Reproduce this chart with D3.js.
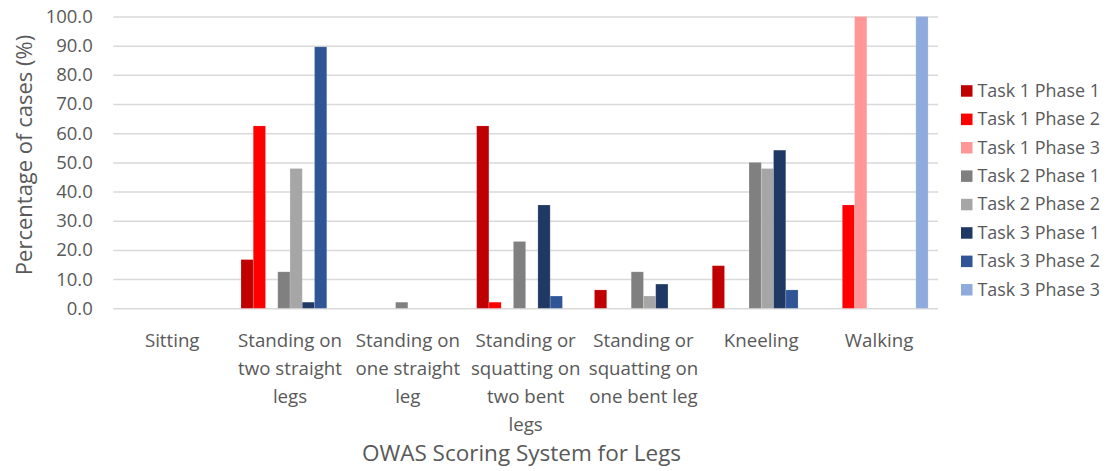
<!DOCTYPE html>
<html>
<head>
<meta charset="utf-8">
<script src="https://cdn.jsdelivr.net/npm/d3@7"></script>
<style>
  html, body { margin: 0; padding: 0; background: #fff; }
  svg { display: block; font-family: "Open Sans", "Noto Sans", sans-serif; }
</style>
</head>
<body>
<svg id="chart" width="1112" height="471"></svg>
<script>
// Posture categories (x axis), each label split into its wrapped lines
const categories = [
  "Sitting",
  "Standing on two straight legs",
  "Standing on one straight leg",
  "Standing or squatting on two bent legs",
  "Standing or squatting on one bent leg",
  "Kneeling",
  "Walking"
];
const categoryLines = [
  ["Sitting"],
  ["Standing on", "two straight", "legs"],
  ["Standing on", "one straight", "leg"],
  ["Standing or", "squatting on", "two bent", "legs"],
  ["Standing or", "squatting on", "one bent leg"],
  ["Kneeling"],
  ["Walking"]
];

const seriesNames = [
  "Task 1 Phase 1", "Task 1 Phase 2", "Task 1 Phase 3",
  "Task 2 Phase 1", "Task 2 Phase 2",
  "Task 3 Phase 1", "Task 3 Phase 2", "Task 3 Phase 3"
];
const seriesColors = [
  "#C00000", "#FF0000", "#FF9797",
  "#808080", "#A6A6A6",
  "#1F3864", "#2F5597", "#8FAADC"
];

// Percentage of cases, one array per series, in category order
const task1Phase1 = [0, 16.7, 0, 62.5, 6.3, 14.6, 0];
const task1Phase2 = [0, 62.5, 0, 2.1, 0, 0, 35.4];
const task1Phase3 = [0, 0, 0, 0, 0, 0, 100];
const task2Phase1 = [0, 12.5, 2.1, 22.9, 12.5, 50.0, 0];
const task2Phase2 = [0, 47.9, 0, 0, 4.2, 47.9, 0];
const task3Phase1 = [0, 2.1, 0, 35.4, 8.3, 54.2, 0];
const task3Phase2 = [0, 89.6, 0, 4.2, 0, 6.3, 0];
const task3Phase3 = [0, 0, 0, 0, 0, 0, 100];
const seriesValues = [
  task1Phase1, task1Phase2, task1Phase3,
  task2Phase1, task2Phase2,
  task3Phase1, task3Phase2, task3Phase3
];

const yTicks = [0, 10, 20, 30, 40, 50, 60, 70, 80, 90, 100];

const svg = d3.select("#chart");
const textColor = "#595959";
const gridColor = "#D9D9D9";

const plot = { left: 113.3, right: 938, top: 16.5, bottom: 308.3 };

const x0 = d3.scaleBand()
  .domain(categories)
  .range([plot.left, plot.right])
  .paddingInner(0.168)
  .paddingOuter(0.084);

const x1 = d3.scaleBand()
  .domain(seriesNames)
  .range([0, x0.bandwidth()])
  .padding(0);

const y = d3.scaleLinear()
  .domain([0, 100])
  .range([plot.bottom, plot.top]);

// Horizontal gridlines and value labels
const yAxis = d3.axisLeft(y)
  .tickValues(yTicks)
  .tickFormat(d3.format(".1f"))
  .tickSize(-(plot.right - plot.left))
  .tickPadding(20.5);

const gy = svg.append("g")
  .attr("transform", `translate(${plot.left},0)`)
  .call(yAxis);
gy.select(".domain").remove();
gy.selectAll(".tick line")
  .attr("stroke", gridColor)
  .attr("stroke-width", 1.5);
gy.selectAll(".tick text")
  .attr("fill", textColor)
  .attr("font-size", "18.5px")
  .attr("font-family", "Open Sans")
  .attr("dy", "0.32em");

// Bars
const rows = seriesNames.flatMap((s, si) =>
  categories.map((c, ci) => ({ series: s, cat: c, value: seriesValues[si][ci], color: seriesColors[si] }))
);

svg.append("g")
  .selectAll("rect")
  .data(rows.filter(d => d.value > 0))
  .join("rect")
  .attr("x", d => x0(d.cat) + x1(d.series))
  .attr("y", d => y(d.value))
  .attr("width", x1.bandwidth())
  .attr("height", d => y(0) - y(d.value))
  .attr("fill", d => d.color)
  .attr("stroke", "#ffffff")
  .attr("stroke-opacity", 0.2)
  .attr("stroke-width", 0.8);

// Category labels under the axis
const catLabels = svg.append("g")
  .attr("fill", textColor)
  .attr("font-size", "18.7px")
  .attr("text-anchor", "middle");

catLabels.selectAll("text")
  .data(categories)
  .join("text")
  .attr("x", d => x0(d) + x0.bandwidth() / 2)
  .attr("y", 347)
  .each(function (d, i) {
    d3.select(this).selectAll("tspan")
      .data(categoryLines[i])
      .join("tspan")
      .attr("x", x0(d) + x0.bandwidth() / 2)
      .attr("dy", (t, j) => j === 0 ? 0 : 27.9)
      .text(t => t);
  });

// Axis titles
svg.append("text")
  .attr("x", 521.5)
  .attr("y", 461)
  .attr("text-anchor", "middle")
  .attr("fill", textColor)
  .attr("font-size", "22.5px")
  .text("OWAS Scoring System for Legs");

svg.append("text")
  .attr("transform", "translate(32,155) rotate(-90)")
  .attr("text-anchor", "middle")
  .attr("fill", textColor)
  .attr("font-size", "22px")
  .text("Percentage of cases (%)");

// Legend
const legend = svg.append("g")
  .selectAll("g")
  .data(seriesNames)
  .join("g")
  .attr("transform", (d, i) => `translate(961,${90.7 + i * 28.4})`);

legend.append("rect")
  .attr("x", 0)
  .attr("y", -5.5)
  .attr("width", 11.5)
  .attr("height", 11.5)
  .attr("fill", (d, i) => seriesColors[i]);

legend.append("text")
  .attr("x", 16.5)
  .attr("dy", "0.34em")
  .attr("fill", textColor)
  .attr("font-size", "17.9px")
  .text(d => d);
</script>
</body>
</html>
